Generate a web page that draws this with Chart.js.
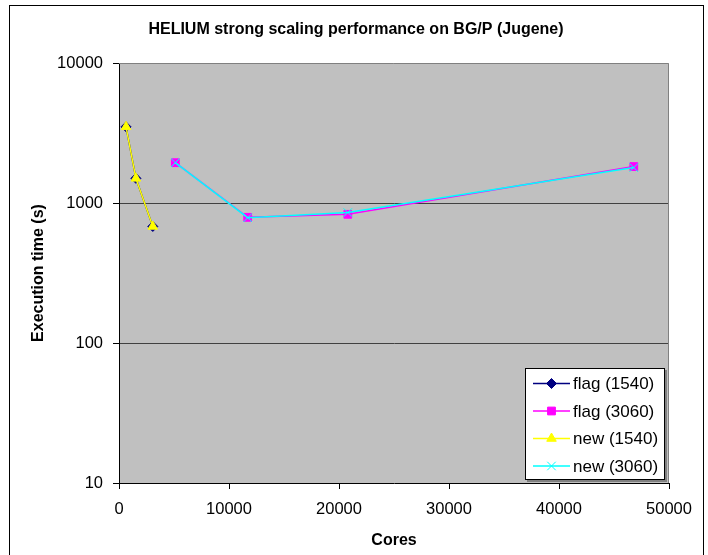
<!DOCTYPE html>
<html><head><meta charset="utf-8">
<script src="https://cdn.jsdelivr.net/npm/chart.js@4.4.1/dist/chart.umd.min.js"></script>
<style>html,body{margin:0;padding:0;background:#fff}canvas{display:block}</style>
</head><body>
<canvas id="c" width="708" height="555"></canvas>
<script>
const chartTitle = 'HELIUM strong scaling performance on BG/P (Jugene)';
const xTitle = 'Cores';
const yTitle = 'Execution time (s)';
const seriesNames = ['flag (1540)', 'flag (3060)', 'new (1540)', 'new (3060)'];
const flag1540Cores = [640, 1536, 3072];
const flag1540Time = [3500, 1500, 680];
const flag3060Cores = [5120, 11700, 20800, 46800];
const flag3060Time = [1940, 790, 830, 1820];
const new1540Cores = [640, 1536, 3072];
const new1540Time = [3500, 1500, 680];
const new3060Cores = [5120, 11700, 20800, 46800];
const new3060Time = [1940, 785, 855, 1790];
const xTicks = [0, 10000, 20000, 30000, 40000, 50000];
const yTicks = [10, 100, 1000, 10000];

const FONT = "'Liberation Sans', Arial, sans-serif";
const pts = (xs, ys) => xs.map((x, i) => ({x: x, y: ys[i]}));

function mk(label, xs, ys, color, style, radius, order) {
  return {
    label: label, data: pts(xs, ys), showLine: true,
    borderColor: color, backgroundColor: color, borderWidth: 1.5,
    pointStyle: style, pointRadius: radius, pointBorderWidth: 1,
    pointBorderColor: color, pointBackgroundColor: color, order: order
  };
}

const datasets = [
  mk(seriesNames[0], flag1540Cores, flag1540Time, '#000080', 'rectRot', 5, 4),
  mk(seriesNames[1], flag3060Cores, flag3060Time, '#FF00FF', 'rect', 5.5, 3),
  mk(seriesNames[2], new1540Cores, new1540Time, '#FFFF00', 'triangle', 5.5, 2),
  mk(seriesNames[3], new3060Cores, new3060Time, '#00FFFF', 'crossRot', 6, 1)
];

const decor = {
  id: 'decor',
  beforeDraw(chart) {
    const a = chart.chartArea, ctx = chart.ctx;
    ctx.save();
    ctx.fillStyle = '#C0C0C0';
    ctx.fillRect(a.left, a.top, a.right - a.left, a.bottom - a.top);
    ctx.restore();
  },
  beforeDatasetsDraw(chart) {
    const a = chart.chartArea, ctx = chart.ctx;
    ctx.save();
    ctx.strokeStyle = '#808080'; ctx.lineWidth = 1;
    ctx.beginPath();
    ctx.moveTo(a.left, a.top + 0.5); ctx.lineTo(a.right - 0.5, a.top + 0.5); ctx.lineTo(a.right - 0.5, a.bottom);
    ctx.stroke();
    ctx.restore();
  },
  afterDraw(chart) {
    const ctx = chart.ctx;
    ctx.save();
    // outer frame
    ctx.strokeStyle = '#000'; ctx.lineWidth = 1;
    ctx.strokeRect(9.5, 5.5, 694, 600);
    // title
    ctx.fillStyle = '#000';
    ctx.font = 'bold 16px ' + FONT;
    ctx.textAlign = 'center'; ctx.textBaseline = 'middle';
    ctx.fillText(chartTitle, 356, 30);
    // legend
    const L = 525, T = 368, R = 665, B = 480;
    ctx.fillStyle = '#808080';
    ctx.fillRect(L + 2, T + 2, R - L, B - T);
    ctx.fillStyle = '#fff';
    ctx.fillRect(L, T, R - L, B - T);
    ctx.strokeStyle = '#000';
    ctx.strokeRect(L + 0.5, T + 0.5, R - L - 1, B - T - 1);
    chart.data.datasets.forEach((ds, i) => {
      const y = T + 15.5 + i * 27.5;
      ctx.strokeStyle = ds.borderColor; ctx.lineWidth = ds.borderWidth;
      ctx.beginPath(); ctx.moveTo(533, y); ctx.lineTo(570, y); ctx.stroke();
      ctx.fillStyle = ds.pointBackgroundColor; ctx.strokeStyle = ds.pointBorderColor;
      ctx.lineWidth = ds.pointBorderWidth;
      Chart.helpers.drawPoint(ctx, {pointStyle: ds.pointStyle, radius: ds.pointRadius, borderWidth: ds.pointBorderWidth, rotation: 0}, 551.5, y);
      ctx.fillStyle = '#000';
      ctx.font = '17px ' + FONT;
      ctx.textAlign = 'left'; ctx.textBaseline = 'middle';
      ctx.fillText(ds.label, 573, y + 1);
    });
    ctx.restore();
  }
};

new Chart(document.getElementById('c'), {
  type: 'scatter',
  data: {datasets: datasets},
  plugins: [decor],
  options: {
    responsive: false, animation: false, devicePixelRatio: 1,
    layout: {padding: {left: 10, right: 39, top: 63, bottom: 0}},
    plugins: {legend: {display: false}, title: {display: false}, tooltip: {enabled: false}},
    scales: {
      x: {
        type: 'linear', min: 0, max: 50000,
        afterBuildTicks: s => { s.ticks = xTicks.map(v => ({value: v})); },
        afterFit: s => { s.height = 72; },
        ticks: {font: {family: FONT, size: 16.5}, color: '#000', padding: 11, maxRotation: 0,
          callback: v => String(v)},
        grid: {drawOnChartArea: false, tickLength: 6, tickColor: '#000'},
        border: {color: '#000', width: 1},
        title: {display: true, text: xTitle, font: {family: FONT, size: 16, weight: 'bold'}, color: '#000', padding: {top: 0, bottom: 5}}
      },
      y: {
        type: 'logarithmic', min: 10, max: 10000,
        afterBuildTicks: s => { s.ticks = yTicks.map(v => ({value: v})); },
        afterFit: s => { s.width = 109; },
        ticks: {font: {family: FONT, size: 16.5}, color: '#000', padding: 10, callback: v => String(v)},
        grid: {
          color: c => (c.tick && (c.tick.value === 100 || c.tick.value === 1000)) ? '#404040' : 'rgba(0,0,0,0)',
          tickLength: 6, tickColor: '#000'
        },
        border: {color: '#000', width: 1},
        title: {display: true, text: yTitle, font: {family: FONT, size: 16, weight: 'bold'}, color: '#000', padding: {top: 19, bottom: 0}}
      }
    }
  }
});
</script>
</body></html>
